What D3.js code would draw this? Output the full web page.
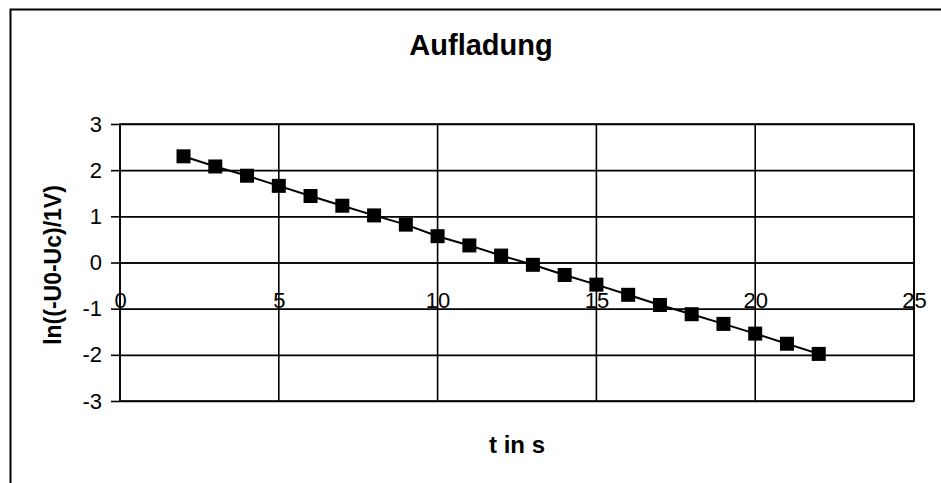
<!DOCTYPE html>
<html>
<head>
<meta charset="utf-8">
<title>Aufladung</title>
<script src="https://cdnjs.cloudflare.com/ajax/libs/d3/7.8.5/d3.min.js"></script>
<style>
  body { margin: 0; background: #fff; }
  svg { font-family: "Liberation Sans", Arial, sans-serif; }
  .tick text { font-size: 22px; fill: #000; }
</style>
</head>
<body>
<div id="chart"></div>
<script>

// data
var tValues = [2, 3, 4, 5, 6, 7, 8, 9, 10, 11, 12, 13, 14, 15, 16, 17, 18, 19, 20, 21, 22];
var lnValues = [2.30, 2.08, 1.88, 1.66, 1.44, 1.23, 1.02, 0.82, 0.57, 0.37, 0.15, -0.05,
                -0.27, -0.48, -0.70, -0.92, -1.12, -1.33, -1.54, -1.76, -1.98];
var xTicks = [0, 5, 10, 15, 20, 25];
var yTicks = [-3, -2, -1, 0, 1, 2, 3];

var W = 941, H = 483;
var plot = {left: 120, right: 914, top: 124, bottom: 401};

// plain hyphen minus like the original
var fmt = function(d) { return String(d); };

var svg = d3.select("#chart")
  .append("svg")
    .attr("width", W)
    .attr("height", H);

// outer chart frame (top + left visible, rest cut off)
svg.append("path")
  .attr("d", "M10.5," + H + " L10.5,9.5 L" + W + ",9.5")
  .attr("fill", "none")
  .attr("stroke", "#000")
  .attr("stroke-width", 2);

var x = d3.scaleLinear().domain([0, 25]).range([plot.left, plot.right]);
var y = d3.scaleLinear().domain([-3, 3]).range([plot.bottom, plot.top]);

// horizontal grid
svg.append("g")
  .attr("transform", "translate(" + plot.left + ",0)")
  .call(d3.axisLeft(y).tickValues(yTicks).tickSize(plot.left - plot.right).tickSizeOuter(0).tickFormat(""))
  .call(function(g) { g.select(".domain").remove(); })
  .selectAll("line").attr("stroke", "#000").attr("stroke-width", 1.6);

// y ticks + labels
svg.append("g")
  .attr("transform", "translate(" + plot.left + ",0)")
  .call(d3.axisLeft(y).tickValues(yTicks).tickSize(9).tickPadding(9).tickSizeOuter(0).tickFormat(fmt))
  .call(function(g) { g.select(".domain").remove(); })
  .call(function(g) {
    g.selectAll("line").attr("stroke", "#000").attr("stroke-width", 1.6);
  });

// vertical grid
svg.append("g")
  .selectAll("line")
  .data(xTicks)
  .enter()
  .append("line")
    .attr("x1", function(d) { return x(d); })
    .attr("x2", function(d) { return x(d); })
    .attr("y1", plot.top)
    .attr("y2", plot.bottom)
    .attr("stroke", "#000")
    .attr("stroke-width", 1.6);

// plot border
svg.append("rect")
  .attr("x", plot.left)
  .attr("y", plot.top)
  .attr("width", plot.right - plot.left)
  .attr("height", plot.bottom - plot.top)
  .attr("fill", "none")
  .attr("stroke", "#000")
  .attr("stroke-width", 1.6);

// x axis crossing at y = 0, labels hang below
svg.append("g")
  .attr("transform", "translate(0," + y(0) + ")")
  .call(d3.axisBottom(x).tickValues(xTicks).tickSize(0).tickPadding(30).tickSizeOuter(0).tickFormat(fmt))
  .call(function(g) {
    g.select(".domain").attr("stroke", "#000").attr("stroke-width", 1.6);
  });

// series line
var line = d3.line()
  .x(function(d, i) { return x(tValues[i]); })
  .y(function(d) { return y(d); });

svg.append("path")
  .datum(lnValues)
  .attr("d", line)
  .attr("fill", "none")
  .attr("stroke", "#000")
  .attr("stroke-width", 2);

// square markers
var ms = 14;
svg.selectAll("rect.marker")
  .data(lnValues)
  .enter()
  .append("rect")
    .attr("class", "marker")
    .attr("x", function(d, i) { return x(tValues[i]) - ms / 2; })
    .attr("y", function(d) { return y(d) - ms / 2; })
    .attr("width", ms)
    .attr("height", ms)
    .attr("fill", "#000");

// titles
svg.append("text")
  .attr("x", 481)
  .attr("y", 55)
  .attr("text-anchor", "middle")
  .attr("font-size", 29)
  .attr("font-weight", "bold")
  .text("Aufladung");

svg.append("text")
  .attr("x", 517)
  .attr("y", 453)
  .attr("text-anchor", "middle")
  .attr("font-size", 24)
  .attr("font-weight", "bold")
  .text("t in s");

svg.append("text")
  .attr("transform", "translate(61,265) rotate(-90)")
  .attr("text-anchor", "middle")
  .attr("font-size", 23)
  .attr("font-weight", "bold")
  .text("ln((-U0-Uc)/1V)");

</script>
</body>
</html>
